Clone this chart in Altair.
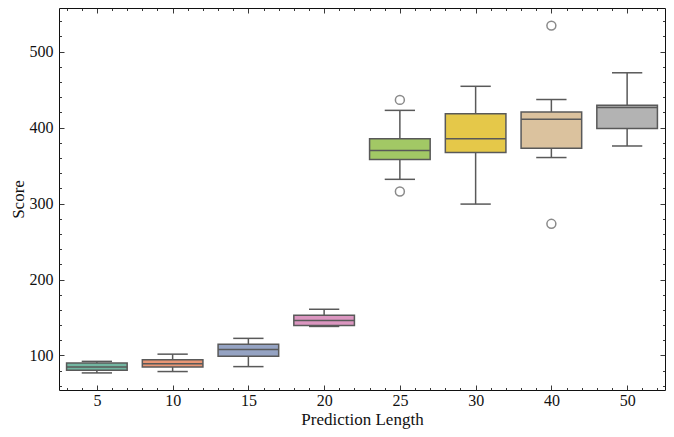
import json
import colorsys
import altair as alt
import pandas as pd

# ---- data ----
categories = ["5", "10", "15", "20", "25", "30", "40", "50"]
whisker_low = [77.0, 78.8, 85.3, 138.2, 331.9, 299.3, 360.6, 375.8]
q1 = [80.5, 84.8, 99.0, 139.5, 358.0, 367.1, 372.7, 398.8]
median = [84.8, 89.2, 107.8, 146.0, 369.7, 385.3, 411.0, 426.6]
q3 = [90.0, 94.4, 114.7, 153.0, 385.3, 418.3, 420.5, 429.6]
whisker_high = [92.2, 101.7, 122.5, 160.8, 422.7, 454.4, 437.0, 472.2]
outlier_cat = ["25", "25", "40", "40"]
outlier_val = [436.5, 315.9, 534.3, 273.3]

set2 = ["#66c2a5", "#fc8d62", "#8da0cb", "#e78ac3",
        "#a6d854", "#ffd92f", "#e5c494", "#b3b3b3"]


def desat(hexc, prop=0.75):
    r, g, b = (int(hexc[i:i + 2], 16) / 255 for i in (1, 3, 5))
    h, l, s = colorsys.rgb_to_hls(r, g, b)
    r, g, b = colorsys.hls_to_rgb(h, l, s * prop)
    return "#%02x%02x%02x" % tuple(round(v * 255) for v in (r, g, b))


fills = [desat(c) for c in set2]
EDGE = "#595959"
LW = 1.5

df = pd.DataFrame({
    "idx": list(range(len(categories))),
    "cat": categories,
    "lo": whisker_low, "q1": q1, "med": median, "q3": q3, "hi": whisker_high,
    "fill": fills,
})
out_df = pd.DataFrame({
    "idx": [categories.index(c) for c in outlier_cat],
    "val": outlier_val,
})

xscale = alt.Scale(domain=[-0.5, len(categories) - 0.5], nice=False, zero=False)
yscale = alt.Scale(domain=[54.5, 557.5], nice=False, zero=False)

label_expr = json.dumps(categories) + "[round(datum.value)]"
x_major = list(range(len(categories)))
x_minor = [round(k * 0.2, 1) for k in range(-2, 5 * len(categories) - 2) if k % 5 != 0]
y_major = [100, 200, 300, 400, 500]
y_minor = [v for v in range(60, 560, 20) if v % 100 != 0]

MAJ, MIN = 5, 2.5
common = dict(domain=False, grid=False, tickColor="#222222", tickWidth=0.9)

ax_bottom = alt.Axis(orient="bottom", values=x_major, labelExpr=label_expr,
                     tickSize=MAJ, offset=-MAJ, labelPadding=2, labelFlush=False,
                     title="Prediction Length", titlePadding=3, titleFontSize=17,
                     **common)
ax_bottom_minor = alt.Axis(orient="bottom", values=x_minor, labels=False,
                           tickSize=MIN, offset=-MIN, title=None, **common)
ax_top = alt.Axis(orient="top", values=x_major, labels=False,
                  tickSize=MAJ, offset=-MAJ, title=None, **common)
ax_top_minor = alt.Axis(orient="top", values=x_minor, labels=False,
                        tickSize=MIN, offset=-MIN, title=None, **common)

ay_left = alt.Axis(orient="left", values=y_major, tickSize=MAJ, offset=-MAJ,
                   labelPadding=6, title="Score", titlePadding=2, titleFontSize=17,
                   **common)
ay_left_minor = alt.Axis(orient="left", values=y_minor, labels=False,
                         tickSize=MIN, offset=-MIN, title=None, **common)
ay_right = alt.Axis(orient="right", values=y_major, labels=False,
                    tickSize=MAJ, offset=-MAJ, title=None, **common)
ay_right_minor = alt.Axis(orient="right", values=y_minor, labels=False,
                          tickSize=MIN, offset=-MIN, title=None, **common)

base = alt.Chart(df).transform_calculate(
    left="datum.idx - 0.4", right="datum.idx + 0.4",
    capl="datum.idx - 0.2", capr="datum.idx + 0.2",
)

whiskers = base.mark_rule(color=EDGE, strokeWidth=LW).encode(
    x=alt.X("idx:Q", scale=xscale, axis=ax_bottom),
    y=alt.Y("lo:Q", scale=yscale, axis=ay_left),
    y2="hi:Q",
)
caps_lo = base.mark_rule(color=EDGE, strokeWidth=LW).encode(
    x=alt.X("capl:Q", scale=xscale, axis=ax_bottom_minor),
    x2="capr:Q",
    y=alt.Y("lo:Q", scale=yscale, axis=ay_left_minor),
)
caps_hi = base.mark_rule(color=EDGE, strokeWidth=LW).encode(
    x=alt.X("capl:Q", scale=xscale, axis=ax_top),
    x2="capr:Q",
    y=alt.Y("hi:Q", scale=yscale, axis=ay_right),
)
boxes = base.mark_rect(stroke=EDGE, strokeWidth=LW).encode(
    x=alt.X("left:Q", scale=xscale, axis=ax_top_minor),
    x2="right:Q",
    y=alt.Y("q1:Q", scale=yscale, axis=ay_right_minor),
    y2="q3:Q",
    fill=alt.Fill("fill:N", scale=None),
)
medians = base.mark_rule(color=EDGE, strokeWidth=LW).encode(
    x=alt.X("left:Q", scale=xscale, axis=None),
    x2="right:Q",
    y=alt.Y("med:Q", scale=yscale, axis=None),
)
outliers = alt.Chart(out_df).mark_point(
    shape="circle", filled=False, size=80, stroke=EDGE, strokeWidth=LW
).encode(
    x=alt.X("idx:Q", scale=xscale, axis=None),
    y=alt.Y("val:Q", scale=yscale, axis=None),
)

chart = alt.layer(
    whiskers, caps_lo, caps_hi, boxes, medians, outliers
).resolve_axis(
    x="independent", y="independent"
).properties(
    width=606, height=382,
    autosize=alt.AutoSizeParams(type="none"),
    padding={"left": 51, "top": 0, "right": 1, "bottom": 39},
).configure_view(
    stroke="#111111", strokeWidth=1
).configure_axis(
    labelFont="Liberation Serif", titleFont="Liberation Serif",
    labelFontSize=16, titleFontSize=16, labelColor="#111111",
    titleColor="#111111", titleFontWeight="normal",
)

chart.save("out.html", embed_options={"renderer": "svg", "actions": False})
